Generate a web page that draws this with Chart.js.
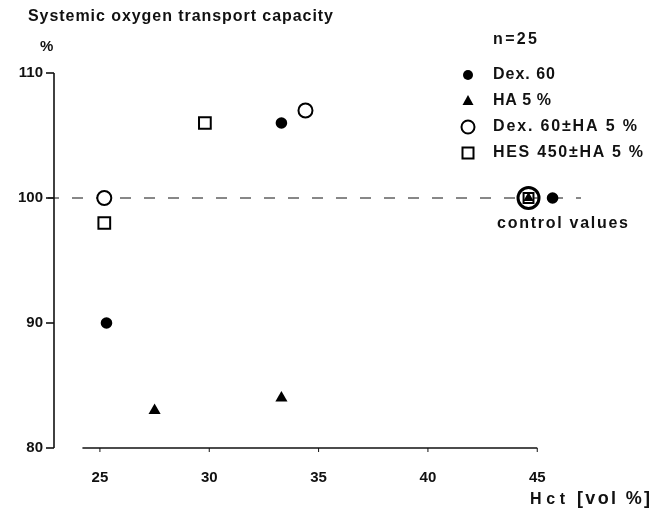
<!DOCTYPE html>
<html><head><meta charset="utf-8">
<script src="https://cdn.jsdelivr.net/npm/chart.js"></script>
<style>html,body{margin:0;padding:0;background:#fff}#wrap{width:661px;height:513px}</style>
</head><body><div id="wrap"><canvas id="c" width="661" height="513"></canvas></div>
<script>
const xTicks = [25, 30, 35, 40, 45];
const yTicks = [80, 90, 100, 110];
const dex60 = [{x:25.3,y:90},{x:33.3,y:106},{x:45.7,y:100}];
const ha5 = [{x:27.5,y:83},{x:33.3,y:84},{x:44.6,y:100}];
const dexHa = [{x:25.2,y:100},{x:34.4,y:107}];
const hesHa = [{x:25.2,y:98},{x:29.8,y:106},{x:44.6,y:100}];
const control = [{x:44.6,y:100}];
const controlLevel = 100;
const seriesLabels = ['Dex. 60', 'HA 5 %', 'Dex. 60\u00B1HA 5 %', 'HES 450\u00B1HA 5 %'];

const FONT = "'Liberation Sans', Arial, sans-serif";

function txt(ctx, s, x, y, w, size) {
  ctx.save();
  ctx.font = 'bold ' + size + 'px ' + FONT;
  ctx.letterSpacing = '0px';
  const m = ctx.measureText(s).width;
  const ls = w ? (w - m) / Math.max(1, s.length - 1) : 0;
  ctx.letterSpacing = ls + 'px';
  ctx.fillStyle = '#111';
  ctx.textBaseline = 'middle';
  ctx.textAlign = 'left';
  ctx.fillText(s, x, y);
  ctx.restore();
}

const decor = {
  id: 'decor',
  beforeDatasetsDraw(chart) {
    const ctx = chart.ctx, xs = chart.scales.x, ys = chart.scales.y, a = chart.chartArea;
    ctx.save();
    ctx.strokeStyle = '#111';
    ctx.lineWidth = 1.6;
    ctx.beginPath();
    ctx.moveTo(a.left, ys.getPixelForValue(yTicks[yTicks.length-1]));
    ctx.lineTo(a.left, ys.getPixelForValue(yTicks[0]));
    ctx.stroke();
    yTicks.forEach(v => {
      const p = ys.getPixelForValue(v);
      ctx.beginPath(); ctx.moveTo(a.left - 8, p); ctx.lineTo(a.left, p); ctx.stroke();
    });
    ctx.lineWidth = 1.6;
    ctx.beginPath();
    ctx.moveTo(xs.getPixelForValue(24.2), a.bottom);
    ctx.lineTo(xs.getPixelForValue(xTicks[xTicks.length-1]), a.bottom);
    ctx.stroke();
    ctx.lineWidth = 1;
    xTicks.forEach(v => {
      const p = xs.getPixelForValue(v);
      ctx.beginPath(); ctx.moveTo(p, a.bottom); ctx.lineTo(p, a.bottom + 4); ctx.stroke();
    });
    const yp = ys.getPixelForValue(controlLevel);
    ctx.lineWidth = 1;
    ctx.setLineDash([11, 13]);
    ctx.beginPath();
    ctx.moveTo(a.left - 6, yp);
    ctx.lineTo(a.right, yp);
    ctx.stroke();
    ctx.restore();
  },
  afterDraw(chart) {
    const ctx = chart.ctx;
    txt(ctx, 'Systemic oxygen transport capacity', 28, 17, 305, 16);
    txt(ctx, '%', 40, 47, 0, 15);
    txt(ctx, 'n=25', 493, 40, 44, 16);
    txt(ctx, 'control values', 497, 224, 131, 16);
    txt(ctx, 'Hct', 530, 500, 35, 16);
    txt(ctx, '[vol %]', 577, 499, 73, 18);
    const rows = [75, 101, 127, 153];
    const widths = [62, 58, 144, 150];
    const mx = 468;
    ctx.save();
    ctx.fillStyle = '#000'; ctx.strokeStyle = '#000';
    ctx.beginPath(); ctx.arc(mx, rows[0], 5, 0, Math.PI*2); ctx.fill();
    ctx.beginPath(); ctx.moveTo(mx, rows[1]-6); ctx.lineTo(mx+5.5, rows[1]+4); ctx.lineTo(mx-5.5, rows[1]+4); ctx.closePath(); ctx.fill();
    ctx.lineWidth = 2;
    ctx.beginPath(); ctx.arc(mx, rows[2], 6.5, 0, Math.PI*2); ctx.stroke();
    ctx.strokeRect(mx-5.5, rows[3]-5.5, 11, 11);
    ctx.restore();
    seriesLabels.forEach((l, i) => txt(ctx, l, 493, rows[i], widths[i], 16));
  }
};

new Chart(document.getElementById('c'), {
  type: 'scatter',
  data: {
    datasets: [
      { label: seriesLabels[0], data: dex60, pointStyle: 'circle', radius: 5.8, backgroundColor: '#000', borderColor: '#000', borderWidth: 0 },
      { label: seriesLabels[1], data: ha5, pointStyle: 'triangle', radius: ctx => ctx.raw && ctx.raw.y === 100 ? 6 : 7, backgroundColor: '#000', borderColor: '#000', borderWidth: 0 },
      { label: seriesLabels[2], data: dexHa, pointStyle: 'circle', radius: 7, backgroundColor: '#fff', borderColor: '#000', borderWidth: 2 },
      { label: seriesLabels[3], data: hesHa, pointStyle: 'rect', radius: ctx => ctx.raw && ctx.raw.y === 100 ? 7 : 8.3, backgroundColor: '#fff', borderColor: '#000', borderWidth: 2 },
      { label: 'control', data: control, pointStyle: 'circle', radius: 10.5, backgroundColor: 'rgba(0,0,0,0)', borderColor: '#000', borderWidth: 3 }
    ]
  },
  options: {
    responsive: false,
    animation: false,
    devicePixelRatio: 1,
    layout: { padding: { top: 73, right: 80, left: 0, bottom: 0 } },
    plugins: { legend: { display: false }, tooltip: { enabled: false } },
    elements: { point: { hoverRadius: 0 } },
    scales: {
      x: {
        type: 'linear', min: 22.9, max: 47,
        afterBuildTicks: s => { s.ticks = xTicks.map(v => ({ value: v })); },
        afterFit: s => { s.height = 65; },
        grid: { display: false, drawTicks: false },
        border: { display: false },
        ticks: { color: '#111', font: { family: FONT, size: 15, weight: 'bold' }, padding: 21, maxRotation: 0 }
      },
      y: {
        type: 'linear', min: 80, max: 110,
        afterBuildTicks: s => { s.ticks = yTicks.map(v => ({ value: v })); },
        afterFit: s => { s.width = 54; },
        grid: { display: false, drawTicks: false },
        border: { display: false },
        ticks: { color: '#111', font: { family: FONT, size: 15, weight: 'bold' }, padding: 11 }
      }
    }
  },
  plugins: [decor]
});
</script>
</body></html>
